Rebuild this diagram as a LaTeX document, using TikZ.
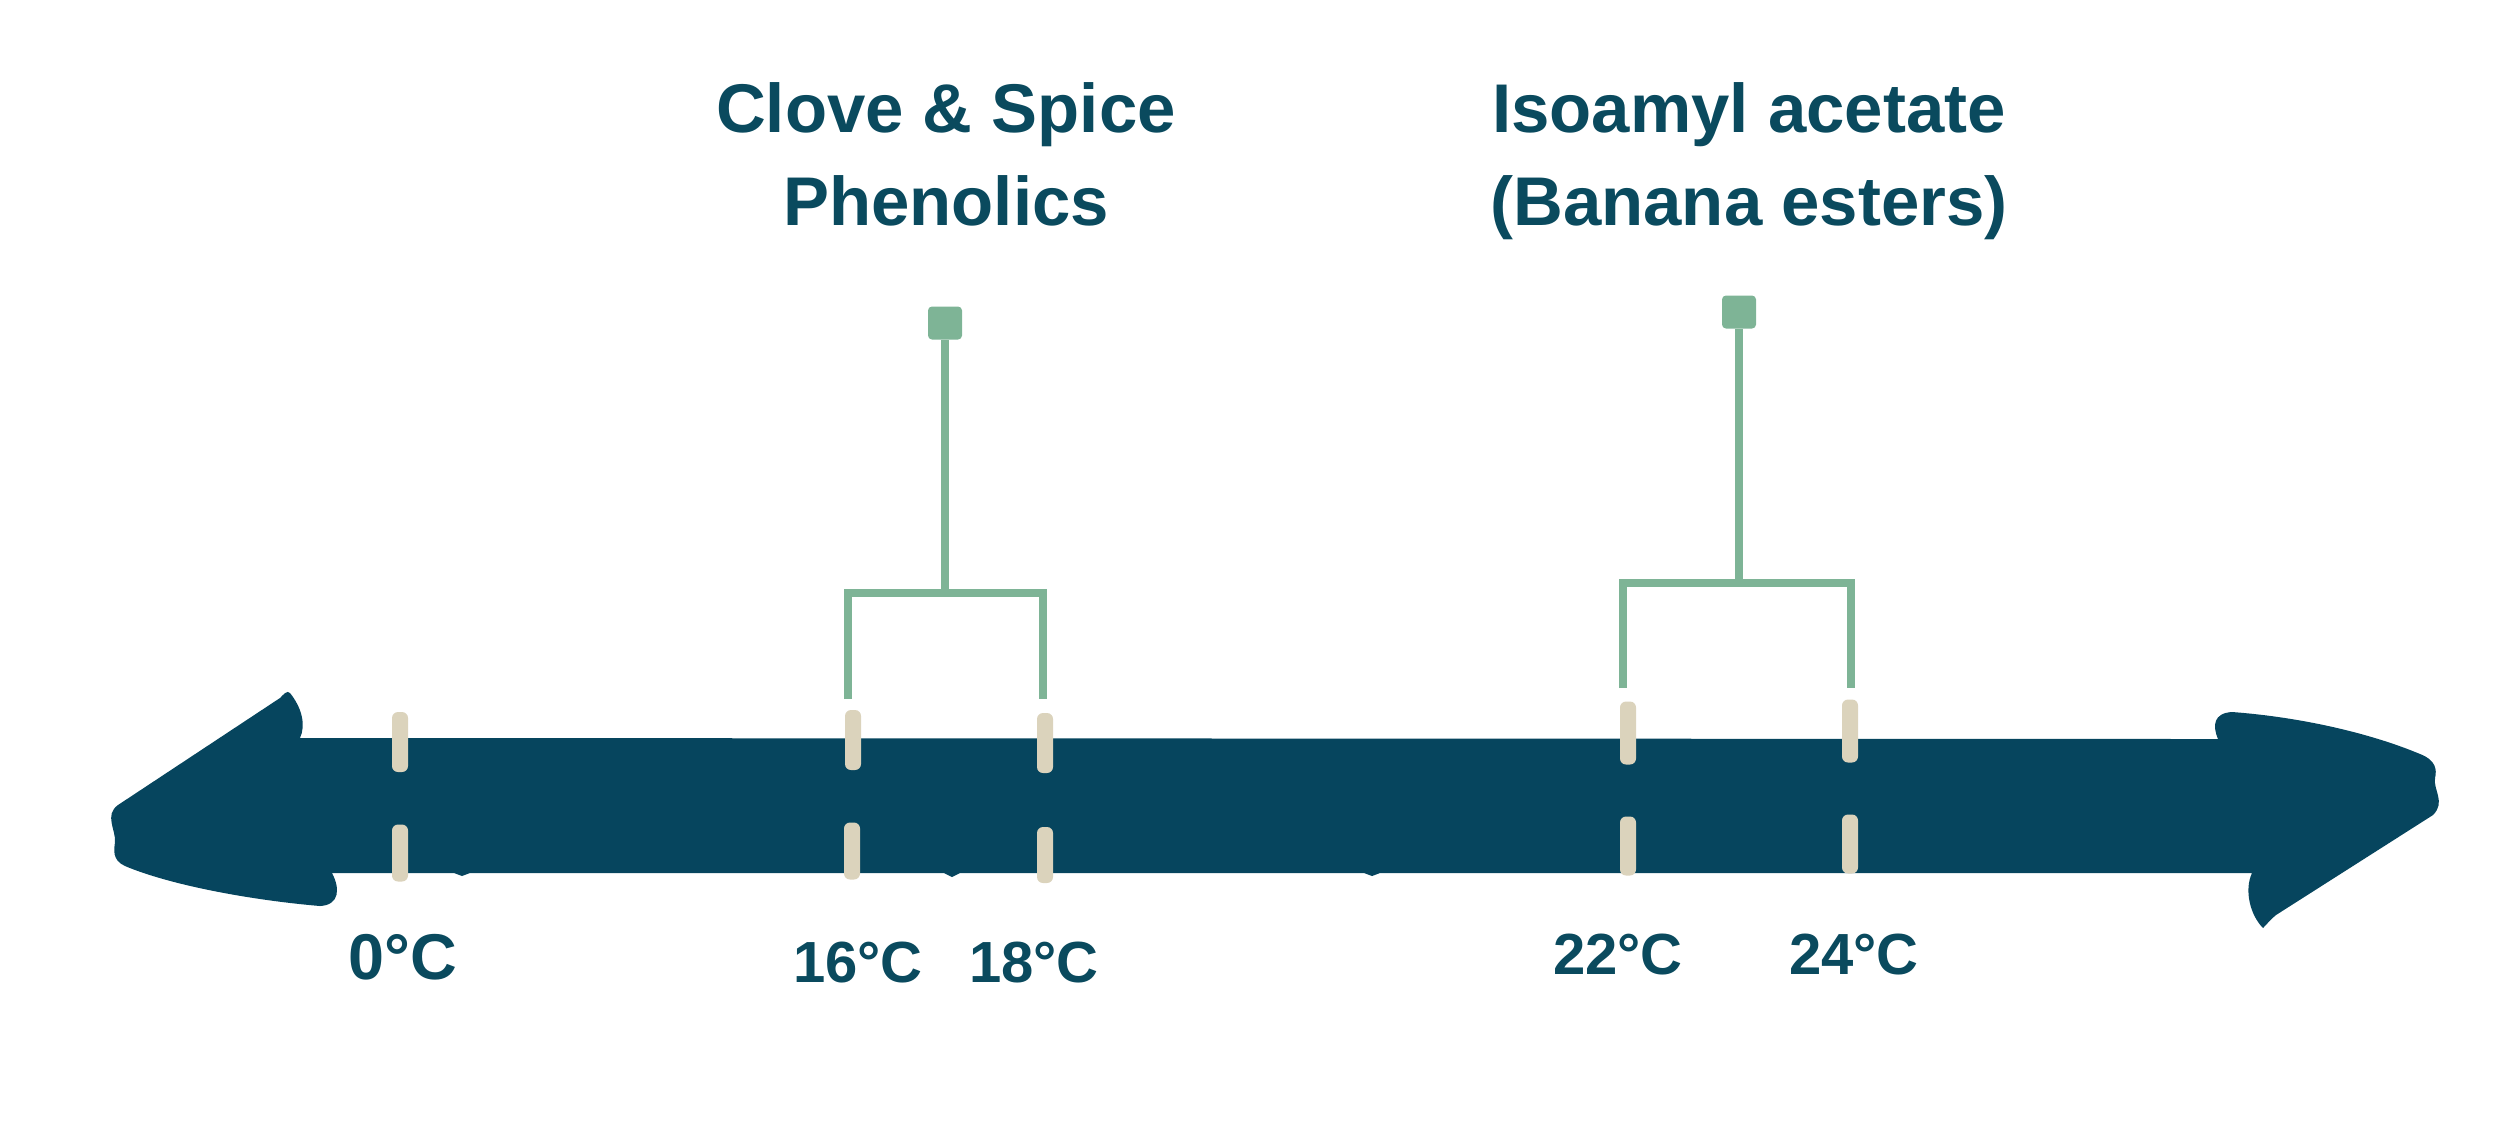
\documentclass[tikz,border=0pt]{standalone}
\usepackage{fontspec}
\setmainfont{Liberation Sans}
\usetikzlibrary{positioning}

\definecolor{axisblue}{RGB}{6,69,94}
\definecolor{labelteal}{RGB}{10,74,94}
\definecolor{sage}{RGB}{126,180,150}
\definecolor{sand}{RGB}{219,211,188}

\begin{document}
\begin{tikzpicture}[
    x=0.01cm, y=-0.01cm,
    tickmark/.style={
        fill=sand,
        rounded corners=0.06cm,
        minimum width=0.16cm,
        inner sep=0pt
    },
    templabel/.style={
        text=labelteal,
        font=\fontsize{16.5}{19}\selectfont\bfseries,
        anchor=base,
        inner sep=0pt
    },
    flavour/.style={
        text=labelteal,
        font=\fontsize{19.6}{26.2}\selectfont\bfseries,
        align=center,
        anchor=base,
        inner sep=0pt
    },
    marker/.style={
        fill=sage,
        rounded corners=0.04cm,
        minimum width=0.34cm,
        minimum height=0.33cm,
        inner sep=0pt
    },
    bracket/.style={
        draw=sage,
        line width=0.08cm
    }
]
\useasboundingbox (0,0) rectangle (2500,1129);

% Double-headed axis
\fill[axisblue] (300,738) -- (2218,739)
    .. controls (2212,725) and (2214,713) .. (2232,712)
    .. controls (2300,717) and (2370,733) .. (2420,754)
    .. controls (2436,760) and (2437,770) .. (2435,778)
    .. controls (2433,790) and (2446,802) .. (2433,815)
    -- (2276,915)
    .. controls (2270,920) and (2266,925) .. (2263,928)
    .. controls (2250,915) and (2244,890) .. (2252,873)
    -- (1380,873) -- (1372,876) -- (1364,873)
    -- (960,873) -- (952,877) -- (944,873)
    -- (470,873) -- (462,876) -- (454,873)
    -- (332,873)
    .. controls (340,888) and (340,905) .. (320,906)
    .. controls (250,900) and (170,885) .. (125,866)
    .. controls (112,860) and (114,850) .. (115,842)
    .. controls (116,830) and (104,815) .. (118,805)
    -- (280,698)
    .. controls (284,694) and (287,690) .. (290,693)
    .. controls (302,708) and (306,725) .. (300,738)
    -- cycle;

% Tick marks
\node[tickmark, minimum height=0.6cm] (t0_up) at (400,742) {};
\node[tickmark, minimum height=0.57cm] (t0_low) at (400,853) {};
\node[tickmark, minimum height=0.6cm] (t16_up) at (853,740) {};
\node[tickmark, minimum height=0.57cm] (t16_low) at (852,851) {};
\node[tickmark, minimum height=0.6cm] (t18_up) at (1045,743) {};
\node[tickmark, minimum height=0.56cm] (t18_low) at (1045,855) {};
\node[tickmark, minimum height=0.63cm] (t22_up) at (1628,733) {};
\node[tickmark, minimum height=0.59cm] (t22_low) at (1628,846) {};
\node[tickmark, minimum height=0.63cm] (t24_up) at (1850,731) {};
\node[tickmark, minimum height=0.59cm] (t24_low) at (1850,844) {};

% Temperature labels
\node[templabel, font=\fontsize{18.4}{21}\selectfont\bfseries] (lbl_0) at (403,979) {0°C};
\node[templabel] (lbl_16) at (858,982) {16°C};
\node[templabel] (lbl_18) at (1034,982) {18°C};
\node[templabel] (lbl_22) at (1618,974) {22°C};
\node[templabel] (lbl_24) at (1854,974) {24°C};

% Flavour groups
\node[flavour] (clove) at (946,225) {Clove \& Spice\\Phenolics};
\node[marker] (sq_clove) at (945,323) {};
\coordinate (bar_clove) at (945,593);
\coordinate (leg_16) at (848,699);
\coordinate (leg_18) at (1043,699);

\node[flavour] (banana) at (1749,225) {Isoamyl acetate\\(Banana esters)};
\node[marker] (sq_banana) at (1739,312) {};
\coordinate (bar_banana) at (1739,583);
\coordinate (leg_22) at (1623,688);
\coordinate (leg_24) at (1851,688);

% Connections
\draw[bracket] (sq_clove) -- (bar_clove);
\draw[bracket] (leg_16) |- (bar_clove) -| (leg_18);

\draw[bracket] (sq_banana) -- (bar_banana);
\draw[bracket] (leg_22) |- (bar_banana) -| (leg_24);

\end{tikzpicture}
\end{document}
